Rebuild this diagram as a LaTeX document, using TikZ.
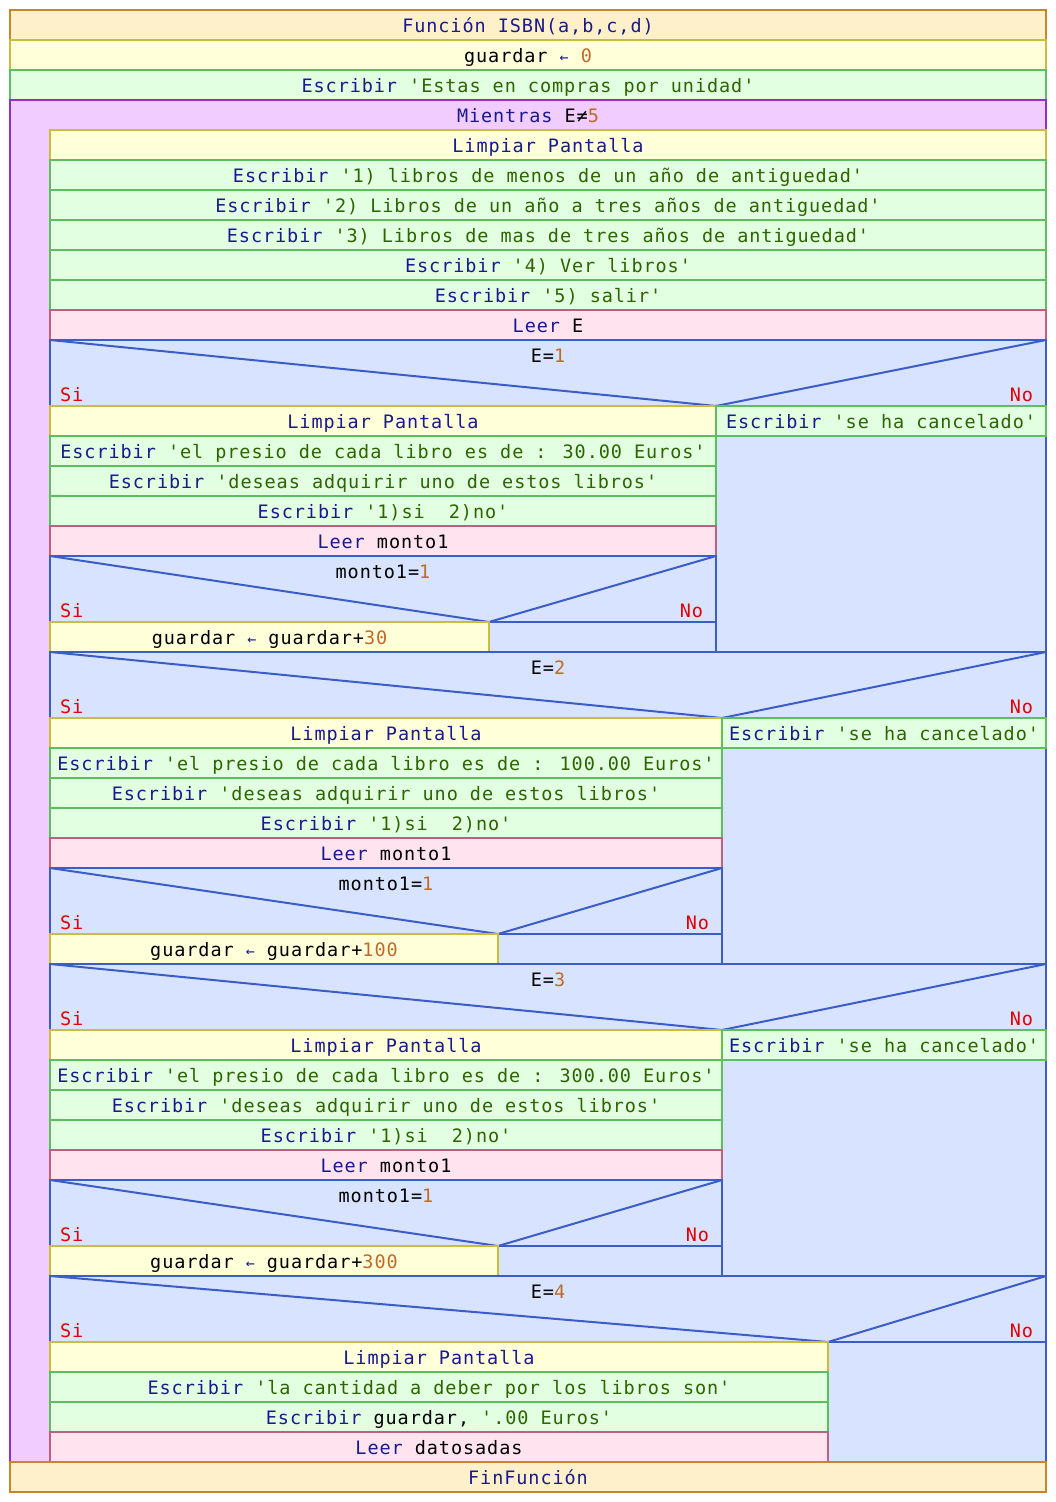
\documentclass[tikz,border=0pt]{standalone}
\usepackage{fontspec}
\newfontfamily\codefont[LetterSpace=5]{DejaVu Sans Mono}

\definecolor{fnfill}{HTML}{FFF0CC}
\definecolor{fndraw}{HTML}{C8862A}
\definecolor{asfill}{HTML}{FFFFDA}
\definecolor{asdraw}{HTML}{C8BE3C}
\definecolor{wrfill}{HTML}{E2FFE2}
\definecolor{wrdraw}{HTML}{5CBE5C}
\definecolor{lpfill}{HTML}{F0CCFF}
\definecolor{lpdraw}{HTML}{9030C8}
\definecolor{rdfill}{HTML}{FFE4F0}
\definecolor{rddraw}{HTML}{C0607E}
\definecolor{iffill}{HTML}{D8E4FF}
\definecolor{ifdraw}{HTML}{3C5CC8}
\definecolor{kwcol}{HTML}{1A1A8C}
\definecolor{strcol}{HTML}{2E6400}
\definecolor{numcol}{HTML}{C06A28}
\definecolor{sicol}{HTML}{E00000}

% token colouring
\newcommand\kw[1]{\textcolor{kwcol}{#1}}
\newcommand\str[1]{\textcolor{strcol}{#1}}
\newcommand\nm[1]{\textcolor{numcol}{#1}}
\newcommand\asg{\textcolor{kwcol}{{\fontsize{15}{15}\selectfont ←}}}

\tikzset{
  codetxt/.style={font=\codefont\fontsize{18.5}{20}\selectfont, inner sep=0pt, outer sep=0pt},
  cellbase/.style={codetxt, anchor=north west, line width=2pt, text height=16pt, text depth=2pt},
  fnbox/.style={cellbase, fill=fnfill, draw=fndraw},
  asbox/.style={cellbase, fill=asfill, draw=asdraw},
  wrbox/.style={cellbase, fill=wrfill, draw=wrdraw},
  lpbox/.style={cellbase, fill=lpfill, draw=lpdraw},
  rdbox/.style={cellbase, fill=rdfill, draw=rddraw},
  ifbox/.style={cellbase, fill=iffill, draw=ifdraw},
  condline/.style={draw=ifdraw, line width=2pt},
  condtext/.style={codetxt},
  branchlabel/.style={codetxt, text=sicol},
}

% \cell{name}{style}{x1}{y1}{x2}{y2}{text}
\newcommand\cell[7]{\node[#2,minimum width={(#5-#3)*1pt},minimum height={(#6-#4)*1pt}] (#1) at (#3,#4) {#7};}

% \decision{name}{x1}{y1}{xsplit}{x2}{ybottom}{condition}
\newcommand\decision[7]{%
  \node[ifbox,minimum width={(#5-#2)*1pt},minimum height={(#6-#3)*1pt}] (#1) at (#2,#3) {};
  \coordinate (#1-v) at (#4,#6);
  \draw[condline] (#1.north west) -- (#1-v) -- (#1.north east);
  \node[condtext, anchor=base] (#1-c) at ({(#2+#5)/2},{#3+22}) {#7};
  \node[branchlabel, anchor=base west] (#1-si) at ({#2+10},{#6-5}) {Si};
  \node[branchlabel, anchor=base east] (#1-no) at ({#5-13},{#6-5}) {No};
}

\begin{document}
\begin{tikzpicture}[x=1pt,y=-1pt]
\useasboundingbox (0,0) rectangle (1056,1502);
\fill[white] (0,0) rectangle (1056,1502);

\cell{fn}{fnbox}{10}{10}{1046}{40}{\kw{Función ISBN(a,b,c,d)}}
\cell{g0}{asbox}{10}{40}{1046}{70}{guardar \asg{} \nm{0}}
\cell{w0}{wrbox}{10}{70}{1046}{100}{\kw{Escribir} \str{'Estas en compras por unidad'}}

% loop
\cell{loop}{lpbox}{10}{100}{1046}{1462}{}
\node[condtext, anchor=base] (loop-c) at (528,122) {\kw{Mientras} E≠\nm{5}};

\cell{l1}{asbox}{50}{130}{1046}{160}{\kw{Limpiar Pantalla}}
\cell{l2}{wrbox}{50}{160}{1046}{190}{\kw{Escribir} \str{'1) libros de menos de un año de antiguedad'}}
\cell{l3}{wrbox}{50}{190}{1046}{220}{\kw{Escribir} \str{'2) Libros de un año a tres años de antiguedad'}}
\cell{l4}{wrbox}{50}{220}{1046}{250}{\kw{Escribir} \str{'3) Libros de mas de tres años de antiguedad'}}
\cell{l5}{wrbox}{50}{250}{1046}{280}{\kw{Escribir} \str{'4) Ver libros'}}
\cell{l6}{wrbox}{50}{280}{1046}{310}{\kw{Escribir} \str{'5) salir'}}
\cell{l7}{rdbox}{50}{310}{1046}{340}{\kw{Leer} E}

% E=1
\cell{if1}{ifbox}{50}{340}{1046}{652}{}
\decision{if1h}{50}{340}{716}{1046}{406}{E=\nm{1}}
\cell{a1}{asbox}{50}{406}{716}{436}{\kw{Limpiar Pantalla}}
\cell{a2}{wrbox}{50}{436}{716}{466}{\kw{Escribir} \str{'el presio de cada libro es de : 30.00 Euros'}}
\cell{a3}{wrbox}{50}{466}{716}{496}{\kw{Escribir} \str{'deseas adquirir uno de estos libros'}}
\cell{a4}{wrbox}{50}{496}{716}{526}{\kw{Escribir} \str{'1)si\ \ 2)no'}}
\cell{a5}{rdbox}{50}{526}{716}{556}{\kw{Leer} monto1}
\cell{ia}{ifbox}{50}{556}{716}{652}{}
\decision{iah}{50}{556}{489}{716}{622}{monto1=\nm{1}}
\cell{a6}{asbox}{50}{622}{489}{652}{guardar \asg{} guardar+\nm{30}}
\cell{an}{wrbox}{716}{406}{1046}{436}{\kw{Escribir} \str{'se ha cancelado'}}

% E=2
\cell{if2}{ifbox}{50}{652}{1046}{964}{}
\decision{if2h}{50}{652}{722}{1046}{718}{E=\nm{2}}
\cell{b1}{asbox}{50}{718}{722}{748}{\kw{Limpiar Pantalla}}
\cell{b2}{wrbox}{50}{748}{722}{778}{\kw{Escribir} \str{'el presio de cada libro es de : 100.00 Euros'}}
\cell{b3}{wrbox}{50}{778}{722}{808}{\kw{Escribir} \str{'deseas adquirir uno de estos libros'}}
\cell{b4}{wrbox}{50}{808}{722}{838}{\kw{Escribir} \str{'1)si\ \ 2)no'}}
\cell{b5}{rdbox}{50}{838}{722}{868}{\kw{Leer} monto1}
\cell{ib}{ifbox}{50}{868}{722}{964}{}
\decision{ibh}{50}{868}{498}{722}{934}{monto1=\nm{1}}
\cell{b6}{asbox}{50}{934}{498}{964}{guardar \asg{} guardar+\nm{100}}
\cell{bn}{wrbox}{722}{718}{1046}{748}{\kw{Escribir} \str{'se ha cancelado'}}

% E=3
\cell{if3}{ifbox}{50}{964}{1046}{1276}{}
\decision{if3h}{50}{964}{722}{1046}{1030}{E=\nm{3}}
\cell{c1}{asbox}{50}{1030}{722}{1060}{\kw{Limpiar Pantalla}}
\cell{c2}{wrbox}{50}{1060}{722}{1090}{\kw{Escribir} \str{'el presio de cada libro es de : 300.00 Euros'}}
\cell{c3}{wrbox}{50}{1090}{722}{1120}{\kw{Escribir} \str{'deseas adquirir uno de estos libros'}}
\cell{c4}{wrbox}{50}{1120}{722}{1150}{\kw{Escribir} \str{'1)si\ \ 2)no'}}
\cell{c5}{rdbox}{50}{1150}{722}{1180}{\kw{Leer} monto1}
\cell{ic}{ifbox}{50}{1180}{722}{1276}{}
\decision{ich}{50}{1180}{498}{722}{1246}{monto1=\nm{1}}
\cell{c6}{asbox}{50}{1246}{498}{1276}{guardar \asg{} guardar+\nm{300}}
\cell{cn}{wrbox}{722}{1030}{1046}{1060}{\kw{Escribir} \str{'se ha cancelado'}}

% E=4
\cell{if4}{ifbox}{50}{1276}{1046}{1462}{}
\decision{if4h}{50}{1276}{828}{1046}{1342}{E=\nm{4}}
\cell{d1}{asbox}{50}{1342}{828}{1372}{\kw{Limpiar Pantalla}}
\cell{d2}{wrbox}{50}{1372}{828}{1402}{\kw{Escribir} \str{'la cantidad a deber por los libros son'}}
\cell{d3}{wrbox}{50}{1402}{828}{1432}{\kw{Escribir} guardar, \str{'.00 Euros'}}
\cell{d4}{rdbox}{50}{1432}{828}{1462}{\kw{Leer} datosadas}

\cell{fin}{fnbox}{10}{1462}{1046}{1492}{\kw{FinFunción}}
\end{tikzpicture}
\end{document}
